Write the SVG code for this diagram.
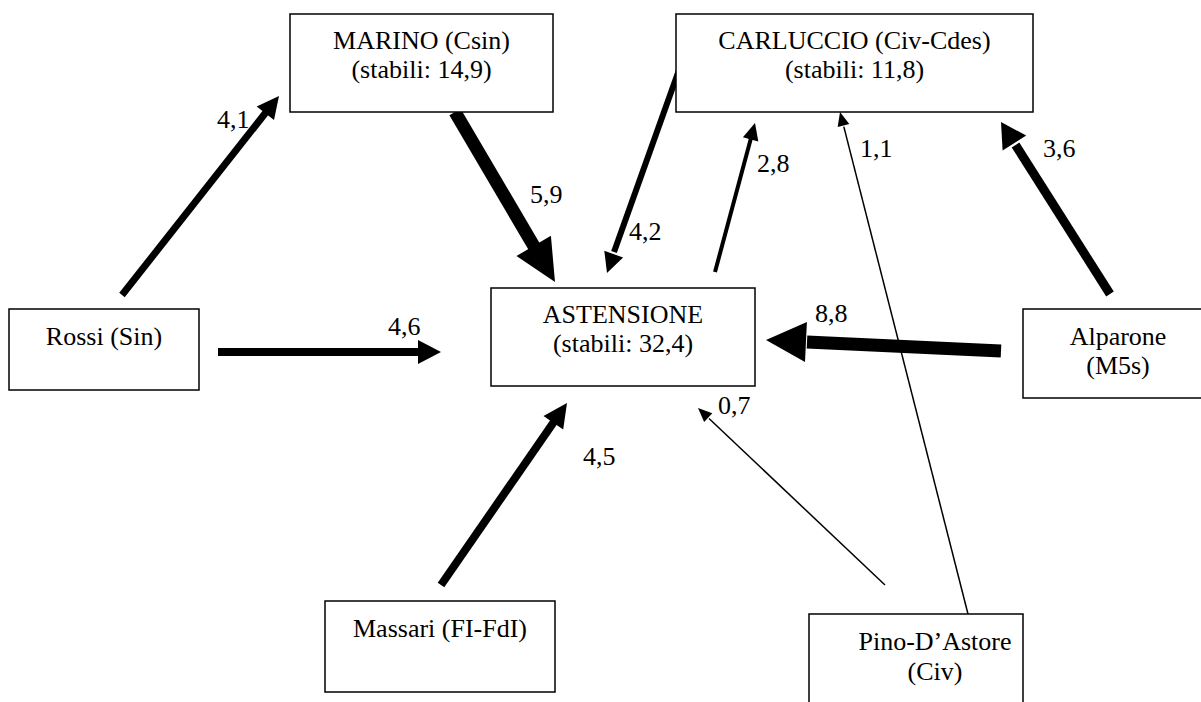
<svg xmlns="http://www.w3.org/2000/svg" width="1201" height="702" viewBox="0 0 1201 702">
<style>
.box{fill:#fff;stroke:#000;stroke-width:1.5}
text{font-family:"Liberation Serif","Times New Roman",serif;font-size:26px;fill:#000}
.c{text-anchor:middle}
.ln{stroke:#000;fill:none;stroke-linecap:butt}
.hd{fill:#000;stroke:none}
</style>
<rect width="1201" height="702" fill="#fff"/>
<g id="connectors">
  <g id="e-rossi-marino"><line class="ln" x1="122" y1="295" x2="267" y2="111" stroke-width="7"/><polygon class="hd" points="279,96 274,120.1 256.7,106.5"/><text x="217" y="128">4,1</text></g>
  <g id="e-marino-ast"><line class="ln" x1="455" y1="112" x2="535" y2="248" stroke-width="13"/><polygon class="hd" points="555,282 516.5,255.9 550.9,235.7"/><text x="530" y="203">5,9</text></g>
  <g id="e-carl-ast"><line class="ln" x1="679" y1="70" x2="614" y2="252" stroke-width="6"/><polygon class="hd" points="607,273 604.3,250.8 623.1,257.5"/><text x="629" y="240">4,2</text></g>
  <g id="e-ast-carl"><line class="ln" x1="715" y1="272" x2="751" y2="138" stroke-width="4"/><polygon class="hd" points="755,123 758.3,141.5 742.9,137.3"/><text x="757" y="172">2,8</text></g>
  <g id="e-pino-carl"><line class="ln" x1="968" y1="614" x2="843.8" y2="126.6" stroke-width="1.5"/><polygon class="hd" points="840,112 849.3,124.1 837.7,127.1"/><text x="860" y="157">1,1</text></g>
  <g id="e-alp-carl"><line class="ln" x1="1110" y1="294" x2="1015.5" y2="145" stroke-width="9"/><polygon class="hd" points="1001,122 1026.2,135.6 1002.6,150.6"/><text x="1043" y="157">3,6</text></g>
  <g id="e-rossi-ast"><line class="ln" x1="218" y1="352" x2="419" y2="352" stroke-width="8"/><polygon class="hd" points="441,352 418,340 418,364"/><text x="388" y="335">4,6</text></g>
  <g id="e-alp-ast"><line class="ln" x1="1001" y1="351" x2="807" y2="342" stroke-width="13"/><polygon class="hd" points="766,340 806.9,321.9 805,361.9"/><text x="815" y="322">8,8</text></g>
  <g id="e-mass-ast"><line class="ln" x1="441" y1="585" x2="554.5" y2="421" stroke-width="8"/><polygon class="hd" points="567,403 563.2,429.6 543.5,415.9"/><text x="583" y="465">4,5</text></g>
  <g id="e-pino-ast"><line class="ln" x1="885" y1="585" x2="709" y2="418.5" stroke-width="1.5"/><polygon class="hd" points="698,408 712.3,413.3 704.1,422"/><text x="718" y="414">0,7</text></g>
</g>
<g id="marino"><rect class="box" x="290" y="14" width="263" height="98"/><text class="c" x="421.5" y="49">MARINO (Csin)</text><text class="c" x="421.5" y="78">(stabili: 14,9)</text></g>
<g id="carluccio"><rect class="box" x="676" y="14" width="357" height="98"/><text class="c" x="854.5" y="49">CARLUCCIO (Civ-Cdes)</text><text class="c" x="854.5" y="78">(stabili: 11,8)</text></g>
<g id="astensione"><rect class="box" x="491" y="288" width="264" height="98"/><text class="c" x="623" y="323">ASTENSIONE</text><text class="c" x="623" y="352">(stabili: 32,4)</text></g>
<g id="rossi"><rect class="box" x="9" y="309" width="190" height="81"/><text class="c" x="104" y="345">Rossi (Sin)</text></g>
<g id="alparone"><rect class="box" x="1023" y="309" width="190" height="89"/><text class="c" x="1118" y="345">Alparone</text><text class="c" x="1118" y="374">(M5s)</text></g>
<g id="massari"><rect class="box" x="325" y="601" width="230" height="91"/><text class="c" x="440" y="637">Massari (FI-FdI)</text></g>
<g id="pino"><rect class="box" x="809" y="614" width="214" height="100"/><text class="c" x="935" y="650">Pino-D’Astore</text><text class="c" x="935" y="680">(Civ)</text></g>
</svg>
